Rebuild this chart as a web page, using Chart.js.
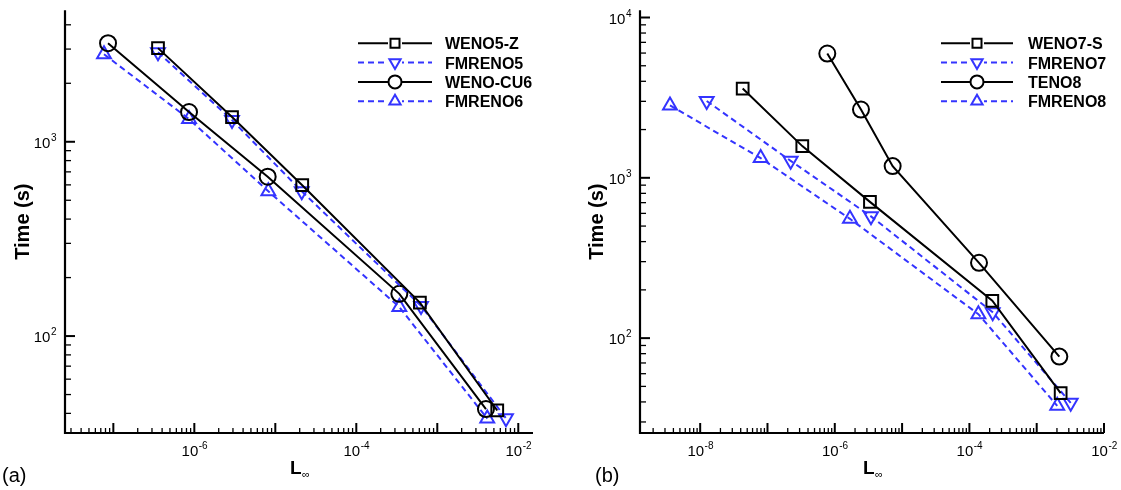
<!DOCTYPE html>
<html>
<head>
<meta charset="utf-8">
<script src="https://cdn.jsdelivr.net/npm/chart.js@4.4.1/dist/chart.umd.min.js"></script>
<style>
  body { margin: 0; background: #fff; }
  canvas { position: absolute; top: 0; }
  #chartA { left: 0; }
  #chartB { left: 560px; }
</style>
</head>
<body>
<canvas id="chartA" width="560" height="490"></canvas>
<canvas id="chartB" width="561" height="490"></canvas>
<script>
// (a) 5th/6th order schemes: L-infinity error vs. CPU time
var weno5zErr = [3.56e-7, 2.92e-6, 2.15e-5, 6.1e-4, 5.5e-3];
var weno5zTime = [3034, 1340, 598, 148.6, 41.4];
var fmreno5Err = [3.56e-7, 2.92e-6, 2.12e-5, 6.3e-4, 7.05e-3];
var fmreno5Time = [2893, 1293, 556, 143, 37.7];
var wenocu6Err = [8.6e-8, 8.6e-7, 8.05e-6, 3.4e-4, 3.99e-3];
var wenocu6Time = [3217, 1422, 661, 165, 42.1];
var fmreno6Err = [7.67e-8, 8.6e-7, 8.2e-6, 3.4e-4, 4.14e-3];
var fmreno6Time = [2822, 1309, 556, 141, 37.6];

// (b) 7th/8th order schemes
var weno7sErr = [4.28e-8, 3.29e-7, 3.33e-6, 2.19e-4, 2.27e-3];
var weno7sTime = [3606, 1577, 708, 171, 45.4];
var fmreno7Err = [1.25e-8, 2.21e-7, 3.45e-6, 2.22e-4, 3.2e-3];
var fmreno7Time = [3015, 1276, 575, 145, 39.5];
var teno8Err = [7.74e-7, 2.45e-6, 7.24e-6, 1.39e-4, 2.17e-3];
var teno8Time = [5957, 2666, 1183, 295, 76.7];
var fmreno8Err = [3.56e-9, 7.92e-8, 1.68e-6, 1.36e-4, 2.02e-3];
var fmreno8Time = [2830, 1327, 555, 141, 37.8];

// tick label exponents
var xExpA = [-6, -4, -2];
var yExpA = [3, 2];
var xExpB = [-8, -6, -4, -2];
var yExpB = [4, 3, 2];

var BLUE = 'rgb(52,52,255)';
var FONT = '"Liberation Sans", Arial, sans-serif';

function pts(xs, ys) {
  return xs.map(function (x, i) { return { x: x, y: ys[i] }; });
}

function series(label, xs, ys, kind) {
  var blue = kind === 'up' || kind === 'down';
  return {
    label: label,
    data: pts(xs, ys),
    borderColor: blue ? BLUE : '#000',
    borderWidth: 2,
    borderDash: blue ? [6, 4] : [],
    pointStyle: kind === 'square' ? 'rect' : (kind === 'circle' ? 'circle' : 'triangle'),
    pointRotation: kind === 'down' ? 180 : 0,
    pointRadius: kind === 'square' ? 8.3 : 8,
    pointBorderWidth: 2,
    pointBorderColor: blue ? BLUE : '#000',
    pointBackgroundColor: 'rgba(0,0,0,0)',
    fill: false,
    tension: 0
  };
}

function marker(ctx, kind, x, y) {
  ctx.beginPath();
  if (kind === 'circle') {
    ctx.arc(x, y, 6.5, 0, Math.PI * 2);
  } else if (kind === 'square') {
    ctx.rect(x - 4.5, y - 4.5, 9, 9);
  } else {
    var r = 6.5, s = kind === 'down' ? -1 : 1;
    ctx.moveTo(x, y - s * r);
    ctx.lineTo(x + r * 0.866, y + s * r / 2);
    ctx.lineTo(x - r * 0.866, y + s * r / 2);
    ctx.closePath();
  }
  ctx.stroke();
}

function pow10(ctx, x, y, e, align) {
  var base = '10', sup = String(e);
  ctx.font = '15px ' + FONT;
  var wb = ctx.measureText(base).width;
  ctx.font = '10px ' + FONT;
  var ws = ctx.measureText(sup).width;
  var left = align === 'right' ? x - wb - ws : x - (wb + ws) / 2;
  ctx.textAlign = 'left';
  ctx.textBaseline = 'alphabetic';
  ctx.font = '15px ' + FONT;
  ctx.fillText(base, left, y);
  ctx.font = '10px ' + FONT;
  ctx.fillText(sup, left + wb + 0.5, y - 7);
}

// axes drawn Tecplot style: left/bottom lines only, inward ticks
function frame(cfg) {
  return {
    id: 'frame',
    afterDatasetsDraw: function (chart) {
      var ctx = chart.ctx, a = chart.chartArea;
      var xs = chart.scales.x, ys = chart.scales.y;
      ctx.save();
      ctx.fillStyle = '#000';
      ctx.strokeStyle = '#000';

      var d, m, v, p;
      for (d = Math.floor(Math.log10(xs.min)); d <= Math.ceil(Math.log10(xs.max)); d++) {
        for (m = 1; m < 10; m++) {
          v = m * Math.pow(10, d);
          if (v < xs.min || v > xs.max * 1.0001) continue;
          p = xs.getPixelForValue(v);
          ctx.lineWidth = m === 1 ? 2 : 1.3;
          ctx.beginPath();
          ctx.moveTo(p, a.bottom);
          ctx.lineTo(p, a.bottom - (m === 1 ? 10 : 5));
          ctx.stroke();
        }
      }
      for (d = Math.floor(Math.log10(ys.min)); d <= Math.ceil(Math.log10(ys.max)); d++) {
        for (m = 1; m < 10; m++) {
          v = m * Math.pow(10, d);
          if (v < ys.min || v > ys.max) continue;
          p = ys.getPixelForValue(v);
          ctx.lineWidth = m === 1 ? 2 : 1.3;
          ctx.beginPath();
          ctx.moveTo(a.left, p);
          ctx.lineTo(a.left + (m === 1 ? 10 : 6), p);
          ctx.stroke();
        }
      }

      ctx.lineWidth = 2.2;
      ctx.beginPath();
      ctx.moveTo(a.left, a.top);
      ctx.lineTo(a.left, a.bottom);
      ctx.lineTo(a.right, a.bottom);
      ctx.stroke();

      cfg.xExp.forEach(function (e) {
        pow10(ctx, xs.getPixelForValue(Math.pow(10, e)), a.bottom + 23, e, 'center');
      });
      cfg.yExp.forEach(function (e) {
        pow10(ctx, a.left - 9, ys.getPixelForValue(Math.pow(10, e)) + 6, e, 'right');
      });

      // axis titles
      var cx = (a.left + a.right) / 2 - 9;
      ctx.textAlign = 'left';
      ctx.font = 'bold 19px ' + FONT;
      ctx.fillText('L', cx, 474);
      var wl = ctx.measureText('L').width;
      ctx.font = '11px ' + FONT;
      ctx.fillText('\u221E', cx + wl + 0.5, 478);

      ctx.save();
      ctx.translate(cfg.yTitleX, (a.top + a.bottom) / 2);
      ctx.rotate(-Math.PI / 2);
      ctx.textAlign = 'center';
      ctx.textBaseline = 'middle';
      ctx.font = 'bold 20px ' + FONT;
      ctx.fillText('Time (s)', 0, 0);
      ctx.restore();

      ctx.font = '20px ' + FONT;
      ctx.textAlign = 'left';
      ctx.fillText(cfg.tag, cfg.tagX, 482);

      // legend
      var L = cfg.legend;
      chart.data.datasets.forEach(function (ds, i) {
        var y = L.y0 + i * L.dy;
        var kind = cfg.kinds[i];
        ctx.strokeStyle = ds.borderColor;
        ctx.lineWidth = 2;
        ctx.setLineDash(ds.borderDash);
        ctx.beginPath();
        ctx.moveTo(L.x1, y);
        ctx.lineTo(L.x2, y);
        ctx.stroke();
        ctx.setLineDash([]);
        ctx.fillStyle = '#fff';
        ctx.fillRect(L.mx - 7, y - 7, 14, 14);
        marker(ctx, kind, L.mx, y);
        ctx.fillStyle = '#000';
        ctx.font = 'bold 16px ' + FONT;
        ctx.textBaseline = 'alphabetic';
        ctx.fillText(ds.label, L.tx, y + 6);
      });
      ctx.restore();
    }
  };
}

function makeChart(id, datasets, lim, pad, cfg) {
  return new Chart(document.getElementById(id), {
    type: 'line',
    data: { datasets: datasets },
    options: {
      responsive: false,
      animation: false,
      events: [],
      layout: { padding: pad },
      plugins: { legend: { display: false }, tooltip: { enabled: false } },
      scales: {
        x: { type: 'logarithmic', min: lim.x[0], max: lim.x[1], display: false },
        y: { type: 'logarithmic', min: lim.y[0], max: lim.y[1], display: false }
      }
    },
    plugins: [frame(cfg)]
  });
}

makeChart('chartA', [
  series('WENO5-Z', weno5zErr, weno5zTime, 'square'),
  series('FMRENO5', fmreno5Err, fmreno5Time, 'down'),
  series('WENO-CU6', wenocu6Err, wenocu6Time, 'circle'),
  series('FMRENO6', fmreno6Err, fmreno6Time, 'up')
], { x: [2.53e-8, 1.52e-2], y: [31.7, 4750] },
   { left: 65, right: 27, top: 10, bottom: 57 },
   {
     xExp: xExpA, yExp: yExpA, yTitleX: 23, tag: '(a)', tagX: 2,
     kinds: ['square', 'down', 'circle', 'up'],
     legend: { x1: 358, x2: 432, mx: 395, tx: 445, y0: 43.3, dy: 19.3 }
   });

makeChart('chartB', [
  series('WENO7-S', weno7sErr, weno7sTime, 'square'),
  series('FMRENO7', fmreno7Err, fmreno7Time, 'down'),
  series('TENO8', teno8Err, teno8Time, 'circle'),
  series('FMRENO8', fmreno8Err, fmreno8Time, 'up')
], { x: [1.276e-9, 1e-2], y: [25.6, 11090] },
   { left: 80, right: 17, top: 10, bottom: 57 },
   {
     xExp: xExpB, yExp: yExpB, yTitleX: 37, tag: '(b)', tagX: 35,
     kinds: ['square', 'down', 'circle', 'up'],
     legend: { x1: 381, x2: 453, mx: 417, tx: 468, y0: 43.3, dy: 19.3 }
   });
</script>
</body>
</html>
